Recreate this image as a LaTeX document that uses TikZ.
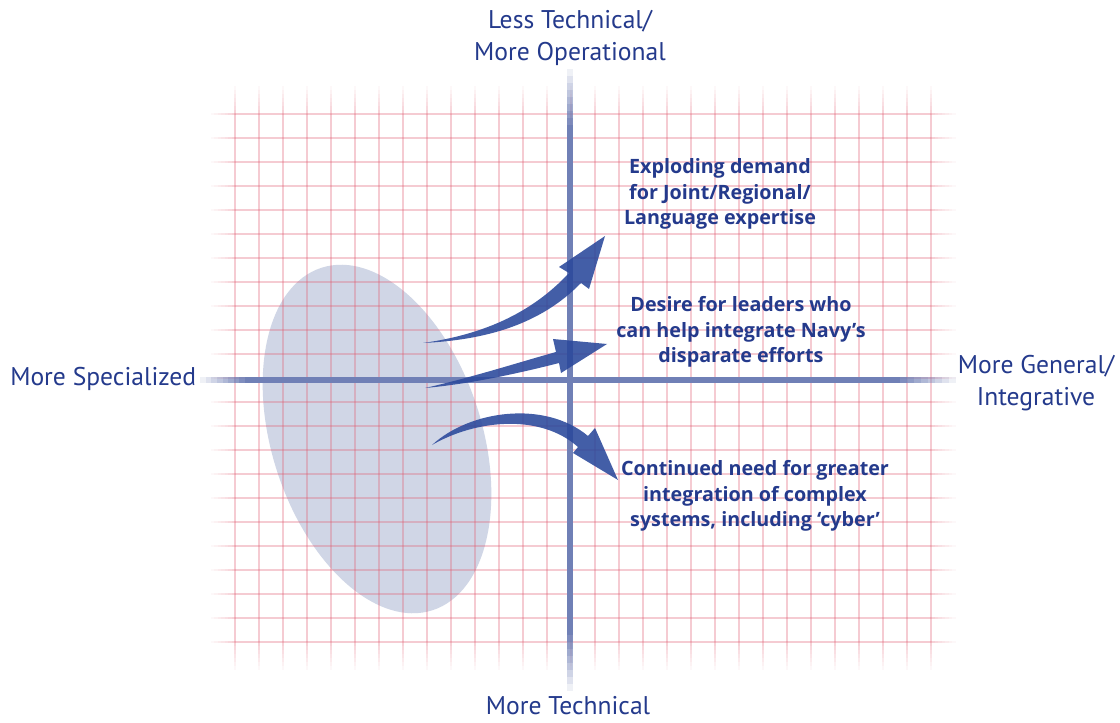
\documentclass[tikz,border=0pt]{standalone}
\usepackage{fontspec}
\setmainfont{PT Sans}
\newfontfamily\notefont{Open Sans}
\definecolor{ink}{RGB}{36,58,140}
\definecolor{gridred}{RGB}{225,90,110}
\definecolor{axisblue}{RGB}{112,128,182}
\definecolor{blob}{RGB}{208,214,230}
\definecolor{arrowblue}{RGB}{42,72,155}
\begin{document}
\begin{tikzpicture}[x=0.75pt,y=-0.75pt,
  gridline/.style={draw=gridred, draw opacity=0.31, line width=1.05pt},
  axislabel/.style={text=ink, font=\fontsize{19.2}{24}\selectfont, align=center, inner sep=0pt},
  notelabel/.style={text=ink, font=\notefont\bfseries\fontsize{14.8}{19.3}\selectfont, align=center, inner sep=0pt},
  sweep/.style={fill=arrowblue, fill opacity=0.88}]
\useasboundingbox (0,0) rectangle (1120,723);
\fill[white] (0,0) rectangle (1120,723);

% shaded region of specialists
\fill[blob, rotate around={18:(377,439)}] (377,439) ellipse [x radius=105, y radius=180];

% graph paper: vertical lines, faded at both ends
\foreach \gx in {235,259,...,931} {
  \draw[gridline] (\gx,114) -- (\gx,642);
  \foreach \s in {1,...,7} {
    \pgfmathsetmacro\op{0.31*(8-\s)/8}
    \draw[gridred, line width=1.05pt, draw opacity=\op] (\gx,118-4*\s) -- (\gx,114-4*\s);
    \draw[gridred, line width=1.05pt, draw opacity=\op] (\gx,638+4*\s) -- (\gx,642+4*\s);
  }
}
% graph paper: horizontal lines, faded at both ends
\foreach \gy in {114,138,...,642} {
  \draw[gridline] (235,\gy) -- (931,\gy);
  \foreach \s in {1,...,7} {
    \pgfmathsetmacro\op{0.31*(8-\s)/8}
    \draw[gridred, line width=1.05pt, draw opacity=\op] (238.5-3.5*\s,\gy) -- (235-3.5*\s,\gy);
    \draw[gridred, line width=1.05pt, draw opacity=\op] (927.5+3.5*\s,\gy) -- (931+3.5*\s,\gy);
  }
}

% axes, faded at their ends
\fill[axisblue] (567,125) rectangle (573,635);
\fill[axisblue] (245,377) rectangle (900,383);
\foreach \s in {1,...,8} {
  \pgfmathsetmacro\op{(9-\s)/9}
  \fill[axisblue, opacity=\op] (567,125-7*\s) rectangle (573,132-7*\s);
  \fill[axisblue, opacity=\op] (567,628+7*\s) rectangle (573,635+7*\s);
  \fill[axisblue, opacity=\op] (250.6-5.6*\s,377) rectangle (245-5.6*\s,383);
  \fill[axisblue, opacity=\op] (893+7*\s,377) rectangle (900+7*\s,383);
}

% sweeping arrows
\fill[sweep] (423,343) .. controls (480,335) and (530,315) .. (569,273)
  -- (559,267) -- (605,236) -- (589,289) -- (581,283)
  .. controls (540,325) and (485,340) .. (423,343) -- cycle;
\fill[sweep] (425,388) .. controls (470,378) and (520,362) .. (556,352)
  -- (553,339) -- (607,344) -- (561,373) -- (559,363)
  .. controls (520,373) and (470,384) .. (425,388) -- cycle;
\fill[sweep] (432,445) .. controls (470,410) and (545,400) .. (588,436)
  -- (595,428) -- (618,480) -- (573,453) -- (578,447)
  .. controls (540,413) and (475,420) .. (432,445) -- cycle;

% axis labels
\node[axislabel] (ltop) at (570,38) {Less Technical/\\More Operational};
\node[axislabel, anchor=west] (lleft) at (10,379) {More Specialized};
\node[axislabel] (lright) at (1036,383) {More General/\\Integrative};
\node[axislabel] (lbottom) at (568,706) {More Technical};

% trend notes
\node[notelabel] (n1) at (720,194) {Exploding demand\\for Joint/Regional/\\Language expertise};
\node[notelabel] (n2) at (741,332) {Desire for leaders who\\can help integrate Navy’s\\disparate efforts};
\node[notelabel] (n3) at (755,496) {Continued need for greater\\integration of complex\\systems, including ‘cyber’};
\end{tikzpicture}
\end{document}
